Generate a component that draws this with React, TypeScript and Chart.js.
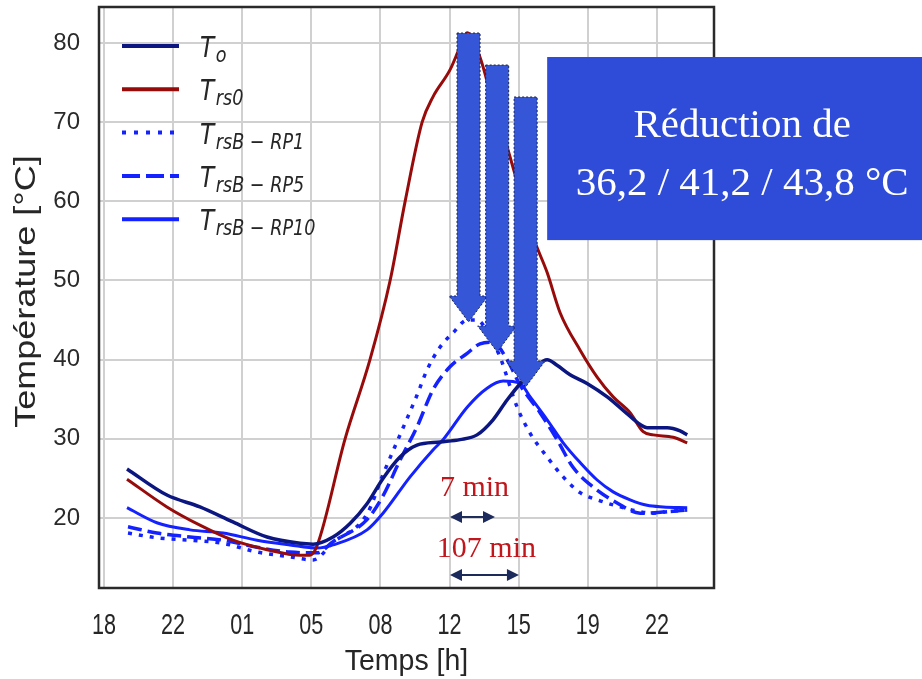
import React, { useEffect, useRef } from "react";
import { Chart, registerables } from "chart.js";

Chart.register(...registerables);

// ---- axes ----
const xTickValues = [18, 21.5, 25, 28.5, 32, 35.5, 39, 42.5, 46];
const xTickLabels = ["18", "22", "01", "05", "08", "12", "15", "19", "22"];
const yTickValues = [20, 30, 40, 50, 60, 70, 80];
const xTitle = "Temps [h]";
const yTitle = "Température [°C]";

// ---- series (time in hours from 18h of day 1, temperature in °C) ----
const toHours = [19.17, 21.19, 22.86, 24.53, 26.26, 27.93, 28.59, 29.6, 30.46, 31.32, 32.13, 32.99, 33.85, 35.02, 36.03, 36.89, 37.7, 38.41, 39.22, 39.93, 40.44, 40.94, 41.6, 42.46, 43.48, 44.29, 45.15, 45.5, 46.52, 47.17, 47.53];
const toTemp = [26.2, 22.9, 21.4, 19.5, 17.6, 16.8, 16.7, 17.6, 19.3, 21.8, 25.0, 27.7, 29.2, 29.6, 29.9, 30.5, 32.4, 34.9, 37.4, 39.3, 40.0, 39.3, 38.1, 37.0, 35.3, 33.6, 31.8, 31.4, 31.4, 31.0, 30.5];

const rs0Hours = [19.17, 21.19, 22.86, 24.53, 26.26, 27.93, 28.43, 28.79, 30.21, 31.47, 32.49, 33.25, 34.11, 34.66, 35.52, 36.03, 36.39, 37.04, 37.7, 38.41, 39.07, 39.73, 40.44, 41.1, 42.11, 42.97, 43.78, 44.64, 45.3, 45.81, 46.82, 47.53];
const rs0Temp = [24.9, 21.4, 19.1, 17.2, 16.0, 15.3, 15.3, 16.5, 30.0, 40.0, 50.0, 60.0, 70.0, 73.2, 76.6, 79.5, 81.3, 78.2, 72.4, 66.9, 61.1, 55.5, 51.0, 45.9, 41.2, 37.8, 35.3, 33.3, 30.9, 30.5, 30.2, 29.5];

const rp1Hours = [19.22, 20.68, 22.36, 24.03, 25.75, 27.42, 28.59, 29.6, 31.32, 32.13, 32.99, 33.85, 34.36, 35.02, 35.68, 36.39, 36.89, 37.55, 38.06, 38.92, 39.58, 40.44, 41.25, 42.11, 42.97, 44.14, 45.15, 45.81, 46.52, 47.53];
const rp1Temp = [18.1, 17.5, 17.2, 16.8, 15.7, 15.1, 14.7, 16.9, 20.5, 25.5, 30.5, 35.5, 38.7, 41.6, 43.4, 45.0, 45.0, 42.9, 40.3, 34.0, 30.7, 27.7, 25.2, 23.2, 22.3, 21.4, 20.8, 20.6, 20.8, 21.0];

const rp5Hours = [19.22, 20.68, 22.36, 24.03, 25.75, 27.42, 28.79, 29.6, 31.32, 32.13, 32.99, 33.85, 34.66, 35.52, 36.39, 37.04, 37.7, 38.41, 39.07, 40.08, 40.94, 41.75, 42.77, 43.98, 45.15, 46.52, 47.53];
const rp5Temp = [18.9, 18.1, 17.6, 17.2, 16.3, 15.7, 15.6, 17.0, 19.8, 22.8, 27.3, 31.5, 36.2, 39.1, 40.8, 42.0, 42.2, 40.0, 36.8, 33.3, 29.9, 26.4, 23.9, 21.9, 20.6, 20.8, 21.0];

const rp10Hours = [19.17, 20.68, 22.36, 24.03, 25.75, 27.42, 28.79, 29.6, 31.32, 32.13, 33.5, 34.66, 35.17, 36.39, 37.4, 38.21, 39.07, 39.58, 40.44, 41.25, 42.11, 42.97, 43.78, 44.64, 45.5, 46.31, 47.53];
const rp10Temp = [21.3, 19.4, 18.5, 18.1, 17.2, 16.6, 16.2, 16.6, 18.5, 20.6, 25.2, 28.6, 29.9, 34.0, 36.4, 37.3, 37.0, 35.3, 32.4, 29.5, 27.0, 24.8, 23.3, 22.3, 21.6, 21.4, 21.3];

// ---- legend ----
const legendMain = "T";
const legendSubs = ["o", "rs0", "rsB − RP1", "rsB − RP5", "rsB − RP10"];

// ---- annotations ----
const reductionLines = ["Réduction de", "36,2 / 41,2 / 43,8 °C"];
const boxLeftHour = 40.44;
const boxTopTemp = 78.23;
const boxBottomTemp = 55.1;
const arrowHours = [36.46, 37.91, 39.35];
const arrowTops = [81.26, 77.22, 73.18];
const arrowTips = [44.76, 40.97, 36.55];
const lagLabels = ["7 min", "107 min"];
const lagStartHour = 35.52;
const lagEndHours = [37.8, 39.01];
const lagArrowTemps = [20.13, 12.8];
const lagTextTemps = [22.78, 15.07];

const NAVY = "#0b1680";
const DARKRED = "#970b0b";
const BLUE = "#1422ff";

const series = [
  { hours: toHours, temp: toTemp, color: NAVY, width: 3.5, dash: [] as number[], legendDash: [] as number[] },
  { hours: rs0Hours, temp: rs0Temp, color: DARKRED, width: 3, dash: [], legendDash: [] },
  { hours: rp1Hours, temp: rp1Temp, color: BLUE, width: 3.5, dash: [4, 7], legendDash: [4, 8] },
  { hours: rp5Hours, temp: rp5Temp, color: BLUE, width: 3.5, dash: [14, 6], legendDash: [18, 6] },
  { hours: rp10Hours, temp: rp10Temp, color: BLUE, width: 3, dash: [], legendDash: [] },
];

const overlayPlugin = {
  id: "overlay",
  afterDatasetsDraw(chart: any) {
    const { ctx, chartArea: a, scales } = chart;
    const xs = scales.x;
    const ys = scales.y;
    ctx.save();

    // frame
    ctx.strokeStyle = "#2a2a2a";
    ctx.lineWidth = 2.5;
    ctx.setLineDash([]);
    ctx.strokeRect(a.left, a.top, a.right - a.left, a.bottom - a.top);

    // legend
    series.forEach((s, i) => {
      const ly = a.top + 39 + i * 43.3;
      ctx.beginPath();
      ctx.setLineDash(s.legendDash);
      ctx.lineWidth = 4;
      ctx.lineCap = "butt";
      ctx.strokeStyle = s.color;
      ctx.moveTo(a.left + 23, ly);
      ctx.lineTo(a.left + 80, ly);
      ctx.stroke();
      ctx.setLineDash([]);
      ctx.save();
      ctx.fillStyle = "#262626";
      ctx.translate(a.left + 101, ly);
      ctx.scale(0.8, 1);
      ctx.textAlign = "left";
      ctx.textBaseline = "alphabetic";
      ctx.font = 'italic 29px "DejaVu Sans", sans-serif';
      ctx.fillText(legendMain, 0, 11);
      const tw = ctx.measureText(legendMain).width;
      ctx.font = 'italic 22px "DejaVu Sans", sans-serif';
      ctx.fillText(legendSubs[i], tw + 2, 16);
      ctx.restore();
    });

    // block arrows
    arrowHours.forEach((h, i) => {
      const cx = xs.getPixelForValue(h);
      const top = ys.getPixelForValue(arrowTops[i]);
      const tip = ys.getPixelForValue(arrowTips[i]);
      const sw = 11.5, hw = 19.5, hl = 26;
      ctx.beginPath();
      ctx.moveTo(cx - sw, top);
      ctx.lineTo(cx + sw, top);
      ctx.lineTo(cx + sw, tip - hl);
      ctx.lineTo(cx + hw, tip - hl);
      ctx.lineTo(cx, tip);
      ctx.lineTo(cx - hw, tip - hl);
      ctx.lineTo(cx - sw, tip - hl);
      ctx.closePath();
      ctx.fillStyle = "#3556d6";
      ctx.fill();
      ctx.setLineDash([2, 2]);
      ctx.lineWidth = 1;
      ctx.strokeStyle = "#1b2450";
      ctx.stroke();
      ctx.setLineDash([]);
    });

    // reduction box
    const bx = xs.getPixelForValue(boxLeftHour);
    const bt = ys.getPixelForValue(boxTopTemp);
    const bb = ys.getPixelForValue(boxBottomTemp);
    ctx.fillStyle = "#2f4cd9";
    ctx.fillRect(bx, bt, chart.width - bx, bb - bt);
    ctx.fillStyle = "#ffffff";
    ctx.font = '41px "Liberation Serif", "Times New Roman", serif';
    ctx.textAlign = "center";
    ctx.textBaseline = "alphabetic";
    ctx.fillText(reductionLines[0], bx + 195, bt + 80);
    ctx.fillText(reductionLines[1], bx + 195, bt + 138);

    // lag arrows and labels
    lagEndHours.forEach((h, i) => {
      const x1 = xs.getPixelForValue(lagStartHour);
      const x2 = xs.getPixelForValue(h);
      const yy = ys.getPixelForValue(lagArrowTemps[i]);
      ctx.strokeStyle = "#1c2a5c";
      ctx.fillStyle = "#1c2a5c";
      ctx.lineWidth = 2;
      ctx.beginPath();
      ctx.moveTo(x1 + 8, yy);
      ctx.lineTo(x2 - 8, yy);
      ctx.stroke();
      ctx.beginPath();
      ctx.moveTo(x1, yy);
      ctx.lineTo(x1 + 12, yy - 6);
      ctx.lineTo(x1 + 12, yy + 6);
      ctx.closePath();
      ctx.fill();
      ctx.beginPath();
      ctx.moveTo(x2, yy);
      ctx.lineTo(x2 - 12, yy - 6);
      ctx.lineTo(x2 - 12, yy + 6);
      ctx.closePath();
      ctx.fill();
      ctx.fillStyle = "#c0161c";
      ctx.font = '30px "Liberation Serif", "Times New Roman", serif';
      ctx.textAlign = "center";
      ctx.fillText(lagLabels[i], (x1 + x2) / 2 + 2, ys.getPixelForValue(lagTextTemps[i]));
    });

    // x tick labels
    ctx.fillStyle = "#262626";
    ctx.font = '30px "Liberation Sans", Arial, sans-serif';
    ctx.textAlign = "center";
    ctx.textBaseline = "alphabetic";
    xTickValues.forEach((v, i) => {
      const px = xs.getPixelForValue(v);
      ctx.save();
      ctx.translate(px, a.bottom + 46);
      ctx.scale(0.72, 1);
      ctx.fillText(xTickLabels[i], 0, 0);
      ctx.restore();
    });

    // x title
    ctx.save();
    ctx.translate((a.left + a.right) / 2, a.bottom + 82);
    ctx.scale(0.95, 1);
    ctx.fillText(xTitle, 0, 0);
    ctx.restore();

    // y title
    ctx.save();
    ctx.translate(27, (a.top + a.bottom) / 2 - 6);
    ctx.rotate(-Math.PI / 2);
    ctx.scale(1, 0.82);
    ctx.textBaseline = "middle";
    ctx.font = '36px "Liberation Sans", Arial, sans-serif';
    ctx.fillText(yTitle, 0, 0);
    ctx.restore();

    ctx.restore();
  },
};

export default function App() {
  const canvasRef = useRef<HTMLCanvasElement | null>(null);

  useEffect(() => {
    const canvas = canvasRef.current;
    if (!canvas) return;
    const chart = new Chart(canvas, {
      type: "line",
      data: {
        datasets: series.map((s, i) => ({
          label: ["T_o", "T_rs0", "T_rsB-RP1", "T_rsB-RP5", "T_rsB-RP10"][i],
          data: s.hours.map((h, j) => ({ x: h, y: s.temp[j] })),
          borderColor: s.color,
          backgroundColor: s.color,
          borderWidth: s.width,
          borderDash: s.dash,
          borderCapStyle: "butt",
          pointRadius: 0,
          fill: false,
          cubicInterpolationMode: "monotone",
        })) as any,
      },
      options: {
        animation: false,
        responsive: false,
        devicePixelRatio: 1,
        parsing: false as any,
        layout: { padding: { left: 0, right: 208, top: 7, bottom: 0 } },
        plugins: { legend: { display: false }, tooltip: { enabled: false } },
        scales: {
          x: {
            type: "linear",
            min: 17.752,
            max: 48.886,
            afterBuildTicks: (scale: any) => {
              scale.ticks = xTickValues.map((v) => ({ value: v }));
            },
            afterFit: (scale: any) => {
              scale.height = 91;
              scale.paddingLeft = 0;
              scale.paddingRight = 0;
              scale.paddingTop = 0;
              scale.paddingBottom = 0;
            },
            ticks: { display: false },
            grid: { color: "#d0d0d0", lineWidth: 2, drawTicks: false },
            border: { display: false },
          },
          y: {
            type: "linear",
            min: 11.158,
            max: 84.547,
            afterBuildTicks: (scale: any) => {
              scale.ticks = yTickValues.map((v) => ({ value: v }));
            },
            afterFit: (scale: any) => {
              scale.width = 99;
              scale.paddingLeft = 0;
              scale.paddingRight = 0;
              scale.paddingTop = 0;
              scale.paddingBottom = 0;
            },
            ticks: {
              padding: 19,
              color: "#2a2a2a",
              font: { family: '"Liberation Sans", Arial, sans-serif', size: 24 },
              callback: (v: any) => String(v),
            },
            grid: { color: "#d0d0d0", lineWidth: 2, drawTicks: false },
            border: { display: false },
          },
        },
      } as any,
      plugins: [overlayPlugin],
    });
    return () => chart.destroy();
  }, []);

  return (
    <div style={{ position: "fixed", left: 0, top: 0, width: 922, height: 679, background: "#ffffff" }}>
      <canvas ref={canvasRef} width={922} height={679} style={{ width: 922, height: 679, display: "block" }} />
    </div>
  );
}
